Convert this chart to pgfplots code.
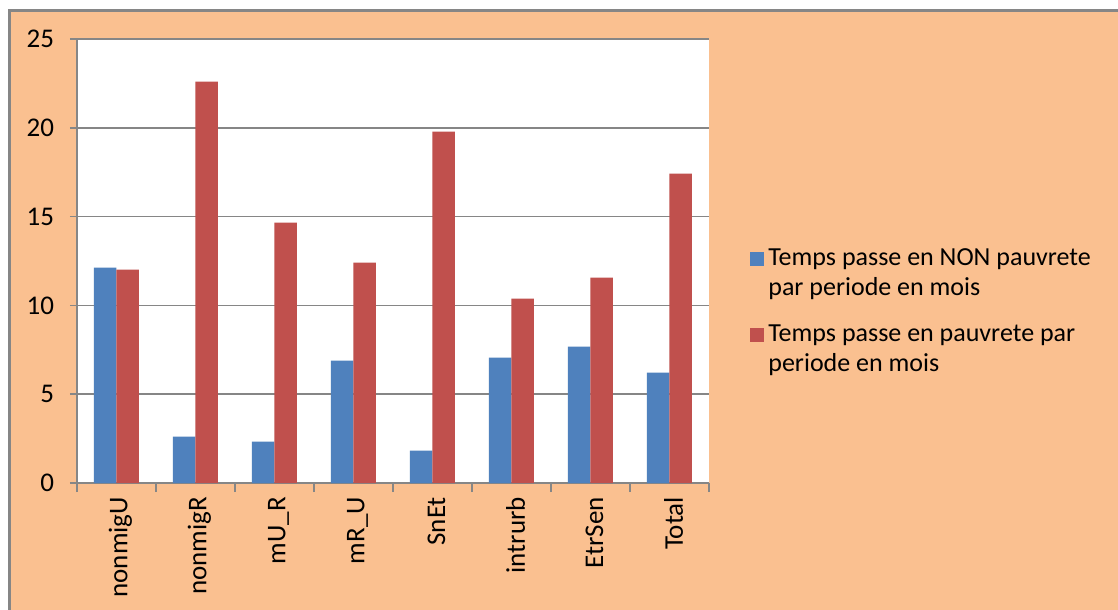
\documentclass[border=0pt]{standalone}
\usepackage{fontspec}
\setmainfont{Carlito}
\usepackage{pgfplots}
\pgfplotsset{compat=1.18}
\definecolor{peach}{HTML}{FAC090}
\definecolor{barblue}{HTML}{4F81BD}
\definecolor{barred}{HTML}{C0504D}
\definecolor{axgray}{HTML}{868686}
\begin{document}
\begin{tikzpicture}
% chart area (image cropped on the right and bottom)
\useasboundingbox (0,0) rectangle (559bp,305bp);
\fill[white] (0,0) rectangle (559bp,305bp);
\fill[peach] (4.75bp,0) rectangle (559bp,299.75bp);
\draw[axgray, line width=1.5bp] (4.75bp,0) -- (4.75bp,299.75bp) -- (559bp,299.75bp);
\begin{axis}[
  at={(38.5bp,63.5bp)}, anchor=south west,
  scale only axis,
  width=316bp, height=222bp,
  ybar=0pt, bar width=11.25bp,
  axis background/.style={fill=white},
  axis x line*=bottom, axis y line*=left,
  axis line style={axgray, line width=0.8bp},
  xmin=-0.5, xmax=7.5,
  ymin=0, ymax=25,
  ytick={0,5,...,25},
  xtick={0,...,7},
  xticklabels={nonmigU,nonmigR,mU\_R,mR\_U,SnEt,intrurb,EtrSen,Total},
  minor xtick={-0.5,0.5,...,7.5},
  tick align=outside,
  major tick length=3.5bp, minor tick length=4.5bp,
  tick style={axgray, line width=0.8bp},
  major x tick style={draw=none},
  ymajorgrids,
  grid style={axgray, line width=0.8bp},
  tick label style={font=\fontsize{13.5bp}{15bp}\selectfont},
  /pgf/number format/assume math mode=true,
  xticklabel style={rotate=90, anchor=east, yshift=-2bp},
  yticklabel style={xshift=-4.5bp},
  legend style={at={(1,0.537)}, anchor=north west, xshift=20.5bp,
    draw=none, fill=none, inner sep=0pt,
    font=\fontsize{13bp}{15bp}\selectfont,
    row sep=9bp,
    cells={align=left}},
  legend cell align=left,
  legend image code/.code={\fill[#1] (0bp,4bp) rectangle (7bp,11bp);},
]
\addplot[fill=barblue, draw=none] coordinates {
  (0,12.12) (1,2.61) (2,2.33) (3,6.89) (4,1.82) (5,7.06) (6,7.68) (7,6.21)
};
\addplot[fill=barred, draw=none] coordinates {
  (0,12.01) (1,22.60) (2,14.66) (3,12.41) (4,19.78) (5,10.38) (6,11.56) (7,17.42)
};
\legend{Temps passe en NON pauvrete\\par periode en mois,
        Temps passe en pauvrete par\\periode en mois}
\end{axis}
\end{tikzpicture}
\end{document}
